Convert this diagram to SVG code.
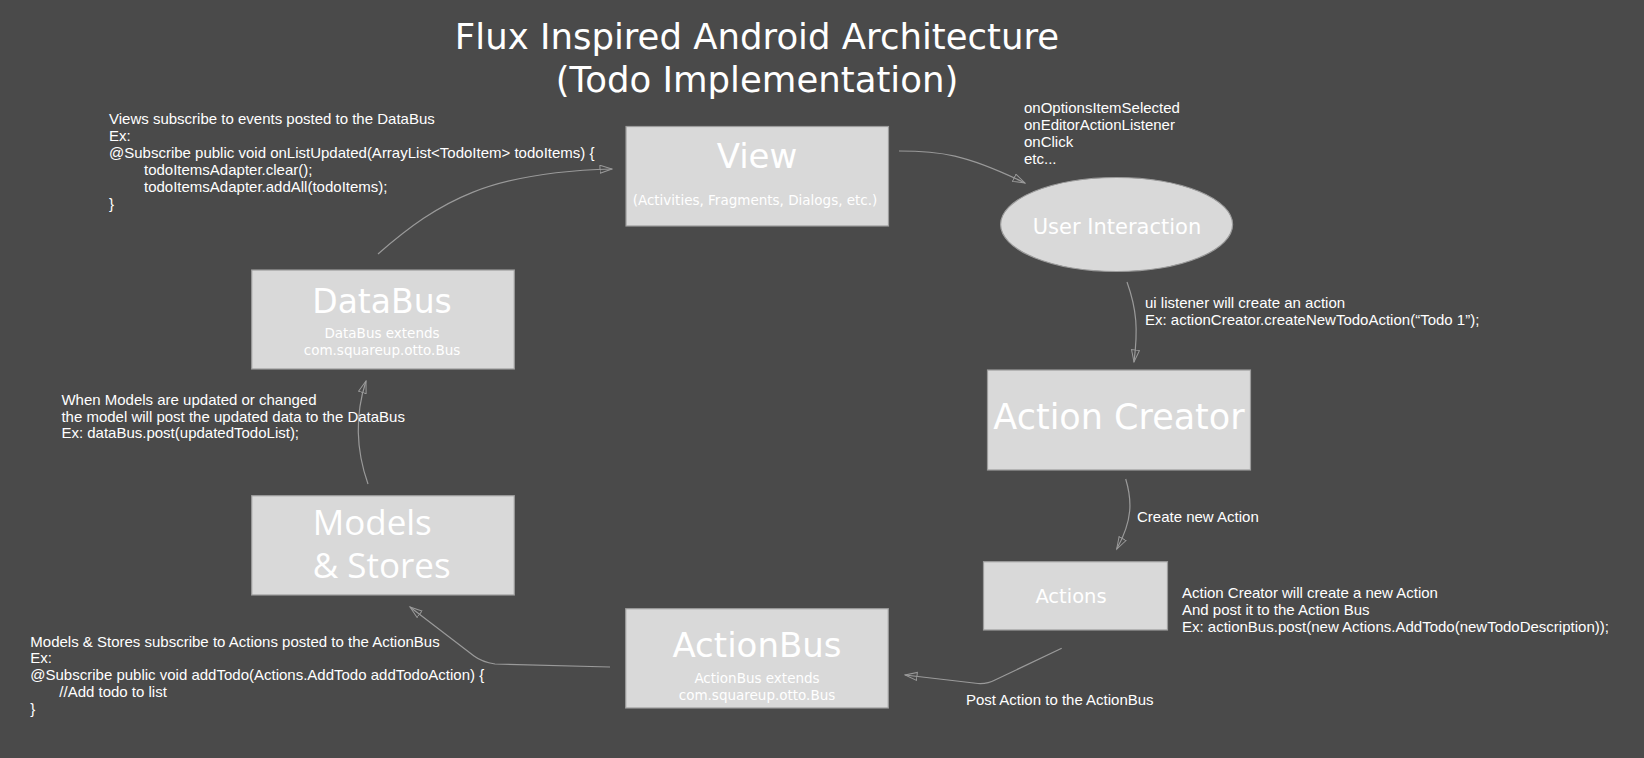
<svg xmlns="http://www.w3.org/2000/svg" width="1644" height="758" viewBox="0 0 1644 758">
<style>
.box{fill:#d9d9d9;stroke:#9c9c9c;stroke-width:1.2}
.t{font-family:"DejaVu Sans",sans-serif;fill:#ffffff;text-anchor:middle}
.s{font-family:"DejaVu Sans",sans-serif;fill:#ffffff;text-anchor:middle;font-size:13.5px}
.n{font-family:"Liberation Sans",Arial,sans-serif;fill:#ffffff;font-size:15px}
.c{fill:none;stroke:#9a9a9a;stroke-width:1.2;marker-end:url(#ah)}
</style>
<defs>
<marker id="ah" markerUnits="userSpaceOnUse" markerWidth="14" markerHeight="10" refX="12.5" refY="4.5" orient="auto">
<path d="M0.5,0.5 L12.5,4.5 L0.5,8.5 Z" fill="none" stroke="#9a9a9a" stroke-width="1"/>
</marker>
</defs>
<rect x="0" y="0" width="1644" height="758" fill="#4a4a4a"/>
<g id="title">
<text class="t" x="757" y="49" font-size="35.5">Flux Inspired Android Architecture</text>
<text class="t" x="757" y="92" font-size="35.5">(Todo Implementation)</text>
</g>
<g id="connectors">
<path class="c" d="M378,254 C440,200 490,172 612,169"/>
<path class="c" d="M899,151 C940,151 965,154 1025,183"/>
<path class="c" d="M1127,282 C1137,310 1138,330 1134,362"/>
<path class="c" d="M1125.7,479 C1132,500 1133,520 1116.7,549"/>
<path class="c" d="M1061.7,648.3 L995,680 Q988,684 978,683.5 L905,675"/>
<path class="c" d="M610,667 L495,664 Q482,662 474,656 L410,607"/>
<path class="c" d="M368,484 C356,450 355,415 366,381"/>
</g>
<g id="view">
<rect class="box" x="626" y="126.5" width="262.5" height="99.5"/>
<text class="t" x="757" y="168" font-size="34">View</text>
<text class="s" x="755" y="205">(Activities, Fragments, Dialogs, etc.)</text>
</g>
<g id="user-interaction">
<ellipse class="box" cx="1116.6" cy="224.5" rx="116" ry="47"/>
<text class="t" x="1117" y="234" font-size="21">User Interaction</text>
</g>
<g id="action-creator">
<rect class="box" x="987.5" y="370" width="263" height="100"/>
<text class="t" x="1119" y="429" font-size="35">Action Creator</text>
</g>
<g id="actions">
<rect class="box" x="983.5" y="561.7" width="184" height="68.3"/>
<text class="t" x="1071" y="603" font-size="19.5">Actions</text>
</g>
<g id="actionbus">
<rect class="box" x="625.7" y="608.7" width="262.6" height="99.3"/>
<text class="t" x="757" y="657" font-size="34">ActionBus</text>
<text class="s" x="757" y="683.3">ActionBus extends</text>
<text class="s" x="757" y="700">com.squareup.otto.Bus</text>
</g>
<g id="models">
<rect class="box" x="251.7" y="495.7" width="262.6" height="99.3"/>
<text x="312.7" y="535" font-size="35" fill="#ffffff" font-family="'Open Sans',sans-serif">Models</text>
<text x="312.7" y="578" font-size="35" fill="#ffffff" font-family="'Open Sans',sans-serif">&amp; Stores</text>
</g>
<g id="databus">
<rect class="box" x="251.7" y="270" width="262.6" height="99"/>
<text class="t" x="382" y="313" font-size="33">DataBus</text>
<text class="s" x="382" y="338.3">DataBus extends</text>
<text class="s" x="382" y="355">com.squareup.otto.Bus</text>
</g>
<g id="notes">
<text class="n" x="109" y="124">Views subscribe to events posted to the DataBus</text>
<text class="n" x="109" y="141">Ex:</text>
<text class="n" x="109" y="158">@Subscribe public void onListUpdated(ArrayList&lt;TodoItem&gt; todoItems) {</text>
<text class="n" x="144" y="175">todoItemsAdapter.clear();</text>
<text class="n" x="144" y="192">todoItemsAdapter.addAll(todoItems);</text>
<text class="n" x="109" y="209">}</text>
<text class="n" x="1024" y="112.7">onOptionsItemSelected</text>
<text class="n" x="1024" y="129.7">onEditorActionListener</text>
<text class="n" x="1024" y="146.7">onClick</text>
<text class="n" x="1024" y="163.5">etc...</text>
<text class="n" x="1145" y="308.3">ui listener will create an action</text>
<text class="n" x="1145" y="325.3">Ex: actionCreator.createNewTodoAction(“Todo 1”);</text>
<text class="n" x="1137" y="521.7">Create new Action</text>
<text class="n" x="1182" y="598.3">Action Creator will create a new Action</text>
<text class="n" x="1182" y="615.3">And post it to the Action Bus</text>
<text class="n" x="1182" y="632.3">Ex: actionBus.post(new Actions.AddTodo(newTodoDescription));</text>
<text class="n" x="966" y="705">Post Action to the ActionBus</text>
<text class="n" x="61.4" y="405">When Models are updated or changed</text>
<text class="n" x="61.4" y="421.7">the model will post the updated data to the DataBus</text>
<text class="n" x="61.4" y="438.3">Ex: dataBus.post(updatedTodoList);</text>
<text class="n" x="30.3" y="646.7">Models &amp; Stores subscribe to Actions posted to the ActionBus</text>
<text class="n" x="30.3" y="663.3">Ex:</text>
<text class="n" x="30.3" y="680">@Subscribe public void addTodo(Actions.AddTodo addTodoAction) {</text>
<text class="n" x="59.3" y="697">//Add todo to list</text>
<text class="n" x="30.3" y="713.7">}</text>
</g>
</svg>
